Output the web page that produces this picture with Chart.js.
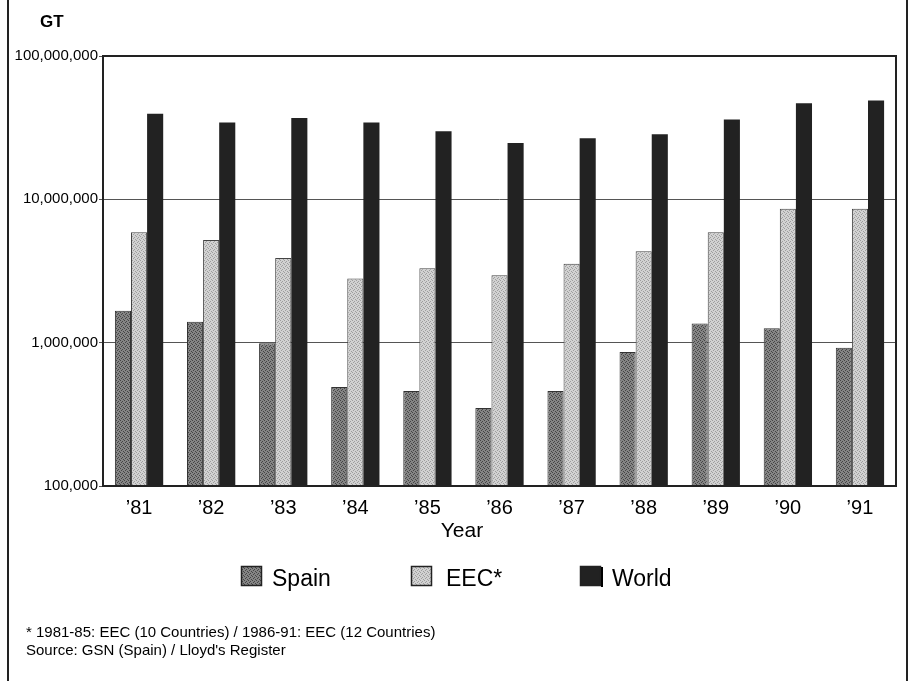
<!DOCTYPE html>
<html lang="en">
<head>
<meta charset="UTF-8">
<title>Gross Tonnage - Spain / EEC / World</title>
<script src="https://cdn.jsdelivr.net/npm/chart.js"></script>
<style>
    body { margin: 0; background: #fff; }
    #wrap { width: 910px; height: 681px; position: relative; }
</style>
</head>
<body>
<div id="wrap"><canvas id="gtChart"></canvas></div>
<script>
    // values (GT)
    const years = ["\u201981", "\u201982", "\u201983", "\u201984", "\u201985", "\u201986", "\u201987", "\u201988", "\u201989", "\u201990", "\u201991"];
    const spainGT = [1670000, 1400000, 990000, 490000, 460000, 350000, 460000, 860000, 1360000, 1260000, 920000];
    const eecGT = [5900000, 5200000, 3900000, 2800000, 3300000, 2950000, 3550000, 4350000, 5900000, 8600000, 8600000];
    const worldGT = [39500000, 34400000, 36900000, 34400000, 29900000, 24700000, 26700000, 28400000, 36100000, 46900000, 49000000];
    const yTicks = [100000, 1000000, 10000000, 100000000];
    const seriesNames = ["Spain", "EEC*", "World"];
    const footnotes = ["* 1981-85: EEC (10 Countries) / 1986-91: EEC (12 Countries)", "Source: GSN (Spain) / Lloyd's Register"];

    const FONT = '"Liberation Sans", Arial, Helvetica, sans-serif';

    // little stipple pattern like the printed screen tones
    function stipple(base, dot) {
        const c = document.createElement("canvas");
        c.width = 4; c.height = 4;
        const g = c.getContext("2d");
        g.fillStyle = base;
        g.fillRect(0, 0, 4, 4);
        g.fillStyle = dot;
        [[0, 0], [2, 1], [1, 2], [3, 3]].forEach(p => g.fillRect(p[0], p[1], 1, 1));
        return g.createPattern(c, "repeat");
    }

    const spainFill = stipple("#858585", "#454545");
    const eecFill = stipple("#d2d2d2", "#9e9e9e");
    const worldFill = "#222222";

    const decor = {
        id: "decor",
        beforeDraw(chart) {
            const ctx = chart.ctx;
            ctx.save();
            ctx.fillStyle = "#fff";
            ctx.fillRect(0, 0, chart.width, chart.height);
            ctx.fillStyle = "#222";
            ctx.fillRect(7, 0, 2, chart.height);
            ctx.fillRect(906, 0, 2, chart.height);
            ctx.restore();
        },
        afterDraw(chart) {
            const ctx = chart.ctx;
            const a = chart.chartArea;
            ctx.save();
            // plot frame
            ctx.strokeStyle = "#222";
            ctx.lineWidth = 2;
            ctx.strokeRect(a.left, a.top, a.right - a.left, a.bottom - a.top);

            ctx.fillStyle = "#000";
            ctx.textBaseline = "alphabetic";
            ctx.textAlign = "left";
            ctx.font = "bold 17px " + FONT;
            ctx.fillText("GT", 40, 27);

            ctx.font = "21px " + FONT;
            ctx.textAlign = "center";
            ctx.fillText("Year", 462, 537);

            // legend
            const boxes = [[241, 272], [411, 446], [580, 612]];
            ctx.textAlign = "left";
            ctx.font = "23px " + FONT;
            chart.data.datasets.forEach((ds, i) => {
                const bx = boxes[i][0];
                ctx.fillStyle = ds.backgroundColor;
                ctx.fillRect(bx, 566, 21, 20);
                ctx.strokeStyle = "#222";
                ctx.lineWidth = 1.5;
                ctx.strokeRect(bx + 0.5, 566.5, 20, 19);
                ctx.fillStyle = "#000";
                ctx.fillText(ds.label, boxes[i][1], 586);
            });
            ctx.fillRect(601, 567, 2, 20);

            ctx.font = "15px " + FONT;
            ctx.fillText(footnotes[0], 26, 637);
            ctx.fillText(footnotes[1], 26, 655);
            ctx.restore();
        }
    };

    new Chart(document.getElementById("gtChart"), {
        type: "bar",
        data: {
            labels: years,
            datasets: [
                { label: seriesNames[0], data: spainGT, backgroundColor: spainFill, borderColor: "#333", borderWidth: 1 },
                { label: seriesNames[1], data: eecGT, backgroundColor: eecFill, borderColor: "#444", borderWidth: 1 },
                { label: seriesNames[2], data: worldGT, backgroundColor: worldFill, borderColor: "#222", borderWidth: 0 }
            ]
        },
        options: {
            responsive: true,
            maintainAspectRatio: false,
            animation: false,
            layout: { padding: { top: 56, left: 0, right: 14, bottom: 155 } },
            datasets: { bar: { categoryPercentage: 0.67, barPercentage: 1 } },
            plugins: { legend: { display: false }, tooltip: { enabled: false } },
            scales: {
                x: {
                    grid: { display: false },
                    border: { display: false },
                    ticks: { color: "#000", font: { family: FONT, size: 20 }, padding: 2, maxRotation: 0 },
                    afterFit(scale) { scale.height = 40; }
                },
                y: {
                    type: "logarithmic",
                    min: 100000,
                    max: 100000000,
                    border: { display: false },
                    grid: { color: "#555", lineWidth: 1, tickLength: 4, drawTicks: true },
                    ticks: {
                        color: "#000",
                        font: { family: FONT, size: 15 },
                        padding: 1,
                        callback: v => v.toLocaleString("en-US")
                    },
                    afterBuildTicks(scale) { scale.ticks = yTicks.map(v => ({ value: v })); },
                    afterFit(scale) { scale.width = 103; }
                }
            }
        },
        plugins: [decor]
    });
</script>
</body>
</html>
